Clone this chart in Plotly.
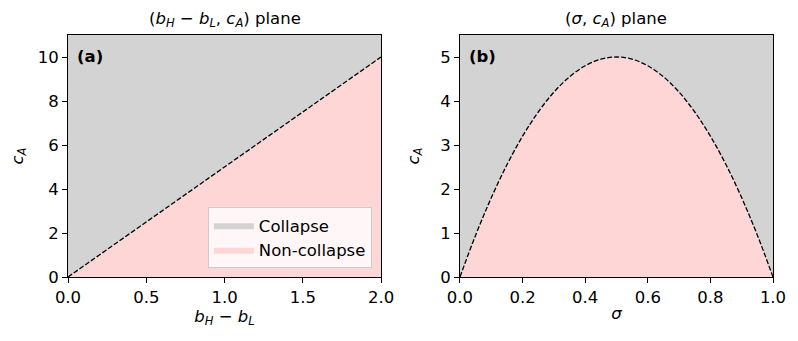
import plotly.graph_objects as go
from plotly.subplots import make_subplots

# panel (a): boundary c_A vs b_H - b_L
b_diff = [0.0, 2.0]
c_boundary_a = [0.0, 10.0]
c_top_a = [11.0, 11.0]

# panel (b): boundary c_A vs sigma
sigma = [0.0, 0.05, 0.1, 0.15, 0.2, 0.25, 0.3, 0.35, 0.4, 0.45, 0.5,
         0.55, 0.6, 0.65, 0.7, 0.75, 0.8, 0.85, 0.9, 0.95, 1.0]
c_boundary_b = [0.0, 0.95, 1.8, 2.55, 3.2, 3.75, 4.2, 4.55, 4.8, 4.95, 5.0,
                4.95, 4.8, 4.55, 4.2, 3.75, 3.2, 2.55, 1.8, 0.95, 0.0]
c_top_b = [5.5] * len(sigma)

GRAY = '#d3d3d3'
PINK = '#ffd6d6'
FONT = 'DejaVu Sans'
FS = 16.5

fig = make_subplots(rows=1, cols=2, horizontal_spacing=0.112)

# (a)
fig.add_trace(go.Scatter(x=b_diff, y=c_boundary_a, mode='lines', line=dict(width=0),
                         fill='tozeroy', fillcolor=PINK, name='Non-collapse',
                         legendrank=2), row=1, col=1)
fig.add_trace(go.Scatter(x=b_diff, y=c_top_a, mode='lines', line=dict(width=0),
                         fill='tonexty', fillcolor=GRAY, name='Collapse',
                         legendrank=1), row=1, col=1)
fig.add_trace(go.Scatter(x=b_diff, y=c_boundary_a, mode='lines', showlegend=False,
                         line=dict(color='black', width=1.3, dash='5px,2px')), row=1, col=1)

# (b)
fig.add_trace(go.Scatter(x=sigma, y=c_boundary_b, mode='lines', line=dict(width=0, shape='spline'),
                         fill='tozeroy', fillcolor=PINK, showlegend=False), row=1, col=2)
fig.add_trace(go.Scatter(x=sigma, y=c_top_b, mode='lines', line=dict(width=0),
                         fill='tonexty', fillcolor=GRAY, showlegend=False), row=1, col=2)
fig.add_trace(go.Scatter(x=sigma, y=c_boundary_b, mode='lines', showlegend=False,
                         line=dict(color='black', width=1.3, dash='5px,2px', shape='spline')), row=1, col=2)

axis_style = dict(showline=True, linecolor='black', linewidth=1, mirror=True,
                  ticks='outside', ticklen=5, tickcolor='black', showgrid=False,
                  zeroline=False, automargin=False, tickfont=dict(size=FS, color='black'))

fig.update_xaxes(range=[0, 2], tickvals=[0, 0.5, 1, 1.5, 2], tickformat='.1f',
                 title=dict(text='<i>b</i><sub><i>H</i></sub> − <i>b</i><sub><i>L</i></sub>',
                            font=dict(size=FS), standoff=1),
                 row=1, col=1, **axis_style)
fig.update_yaxes(range=[0, 11], tickvals=[0, 2, 4, 6, 8, 10],
                 title=dict(text='<i>c</i><sub><i>A</i></sub>', font=dict(size=FS), standoff=16),
                 row=1, col=1, **axis_style)
fig.update_xaxes(range=[0, 1], tickvals=[0, 0.2, 0.4, 0.6, 0.8, 1.0], tickformat='.1f',
                 title=dict(text='<i>σ</i>', font=dict(size=FS), standoff=1),
                 row=1, col=2, **axis_style)
fig.update_yaxes(range=[0, 5.5], tickvals=[0, 1, 2, 3, 4, 5],
                 title=dict(text='<i>c</i><sub><i>A</i></sub>', font=dict(size=FS), standoff=16),
                 row=1, col=2, **axis_style)

# page body adds 8px; figure sized so the plot areas land where the reference has them
fig.update_layout(
    width=790, height=333,
    margin=dict(l=60, r=25, t=27, b=64),
    paper_bgcolor='white',
    plot_bgcolor='white',
    font=dict(family=FONT, color='black', size=FS),
    legend=dict(x=0.431, y=0.037, xanchor='right', yanchor='bottom',
                bgcolor='rgba(255,255,255,0.8)', bordercolor='#cccccc', borderwidth=1,
                font=dict(size=FS), traceorder='normal', itemwidth=40),
    annotations=[
        dict(text='(<i>b</i><sub><i>H</i></sub> − <i>b</i><sub><i>L</i></sub>, <i>c</i><sub><i>A</i></sub>) plane',
             x=0.222, y=1.0, xref='paper', yref='paper', xanchor='center', yanchor='bottom',
             yshift=3, showarrow=False, font=dict(size=FS)),
        dict(text='(<i>σ</i>, <i>c</i><sub><i>A</i></sub>) plane',
             x=0.778, y=1.0, xref='paper', yref='paper', xanchor='center', yanchor='bottom',
             yshift=3, showarrow=False, font=dict(size=FS)),
        dict(text='<b>(a)</b>', x=0.022, y=0.91, xref='x domain', yref='y domain',
             xanchor='left', yanchor='middle', showarrow=False, font=dict(size=FS)),
        dict(text='<b>(b)</b>', x=0.022, y=0.91, xref='x2 domain', yref='y2 domain',
             xanchor='left', yanchor='middle', showarrow=False, font=dict(size=FS)),
    ],
)

fig.write_html("out.html")
